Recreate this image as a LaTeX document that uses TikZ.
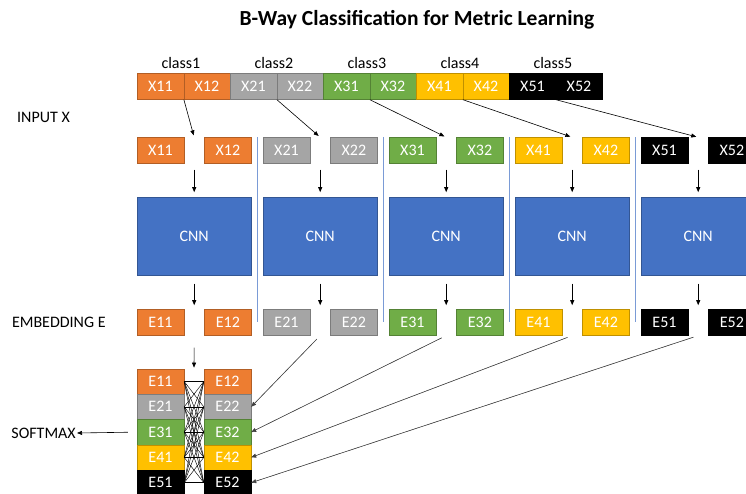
\documentclass[tikz,border=0pt]{standalone}
\usepackage{fontspec}
\setmainfont{Carlito}
\usetikzlibrary{positioning,arrows.meta,calc}
\definecolor{naranja}{HTML}{ED7D31}
\definecolor{gris}{HTML}{A5A5A5}
\definecolor{verde}{HTML}{70AD47}
\definecolor{oro}{HTML}{FFC000}
\definecolor{negro}{HTML}{000000}
\definecolor{azul}{HTML}{4472C4}
\definecolor{celeste}{HTML}{7A9BD6}
\definecolor{grisosc}{HTML}{404040}
\tikzset{
  caja/.style={rectangle, draw=#1!75!black, fill=#1, text=white, minimum width=47pt,
    minimum height=26pt, inner sep=0pt, font=\fontsize{16}{16}\selectfont},
  cnn/.style={rectangle, draw=azul!75!black, fill=azul, text=white, minimum width=114pt,
    minimum height=78pt, font=\fontsize{16}{16}\selectfont},
  etiqueta/.style={inner sep=1pt, font=\fontsize{16}{16}\selectfont},
  titulo/.style={font=\bfseries\fontsize{21.5}{22}\selectfont},
  flecha/.style={-{Triangle[length=5pt,width=4pt]}, line width=0.6pt},
  flechagris/.style={-{Triangle[length=5pt,width=4pt]}, line width=0.6pt, draw=grisosc, fill=grisosc},
  separador/.style={draw=celeste, line width=0.9pt},
  cruce/.style={line width=0.45pt},
}
\begin{document}
\begin{tikzpicture}[x=1pt,y=-1pt]
    \useasboundingbox (0,0) rectangle (746,494);
    \clip (0,0) rectangle (746,494);
    % Titulo
    \node[titulo] (tit) at (417,20) {B-Way Classification for Metric Learning};
    % Entrada X
    \foreach \c/\n [count=\i from 0] in {naranja/11,naranja/12,gris/21,gris/22,verde/31,verde/32,oro/41,oro/42,negro/51,negro/52}
      \node[caja=\c, minimum width=46.5pt, anchor=west] (s\n) at ({137+46.5*\i},86.5) {X\n};
    \foreach \g in {1,...,5}
      \node[etiqueta, above=3pt of s\g1.north east, xshift=-3pt] (cl\g) {class\g};
    \node[etiqueta, anchor=west] (inx) at (16,117) {INPUT X};
    % Grupos: entrada, CNN, embedding
    \foreach \g/\c [count=\k from 0] in {1/naranja,2/gris,3/verde,4/oro,5/negro}{
      \node[caja=\c] (x\g1) at (160.5+126*\k,150.5) {X\g1};
      \node[caja=\c, right=20pt of x\g1] (x\g2) {X\g2};
      \coordinate (t\g) at ($(x\g1.north east)!.5!(x\g2.north west)$);
      \coordinate (g\g) at ($(x\g1.south east)!.5!(x\g2.south west)$);
      \node[cnn, below=33.5pt of g\g] (cnn\g) {CNN};
      \node[caja=\c, below=145.5pt of x\g1] (e\g1) {E\g1};
      \node[caja=\c, right=20pt of e\g1] (e\g2) {E\g2};
      \coordinate (h\g) at ($(e\g1.north east)!.5!(e\g2.north west)$);
      \coordinate (b\g) at ($(e\g1.south east)!.5!(e\g2.south west)$);
      \draw[flecha, shorten >=2pt] (s\g1.south east) -- (t\g);
      \draw[flecha, shorten <=6pt, shorten >=5pt] (g\g) -- (cnn\g.north);
      \draw[flecha, shorten <=8pt, shorten >=4pt] (cnn\g.south) -- (h\g);
    }
    \foreach \g/\h in {1/2,2/3,3/4,4/5}
      \draw[separador] ($(x\g2.north east)!.5!(x\h1.north west)$) -- ($(e\g2.east)!.5!(e\h1.west)$);
    \node[etiqueta, left=30pt of e11] (emb) {EMBEDDING E};
    % Pila de embeddings
    \foreach \c/\r [count=\i from 0] in {naranja/1,gris/2,verde/3,oro/4,negro/5}{
      \node[caja=\c, minimum height=25.3pt] (f\r1) at (160.5,{381.5+25.3*\i}) {E\r1};
      \node[caja=\c, minimum height=25.3pt] (f\r2) at (227.5,{381.5+25.3*\i}) {E\r2};
    }
    \foreach \i in {1,...,5}
      \foreach \j in {1,...,5}
        \draw[cruce] (f\i1.east) -- (f\j2.west);
    \coordinate (arriba) at ($(f11.north east)!.5!(f12.north west)$);
    \draw[flecha, shorten <=12pt, shorten >=1pt] (b1) -- (arriba);
    \foreach \g in {2,...,5}
      \draw[flechagris, shorten <=5pt] (b\g) -- (f\g2.east);
    % Softmax
    \node[etiqueta, anchor=east] (sm) at (77,433) {SOFTMAX};
    \draw[flecha, shorten <=9pt] (f31.west) -- (sm.east);
\end{tikzpicture}
\end{document}
